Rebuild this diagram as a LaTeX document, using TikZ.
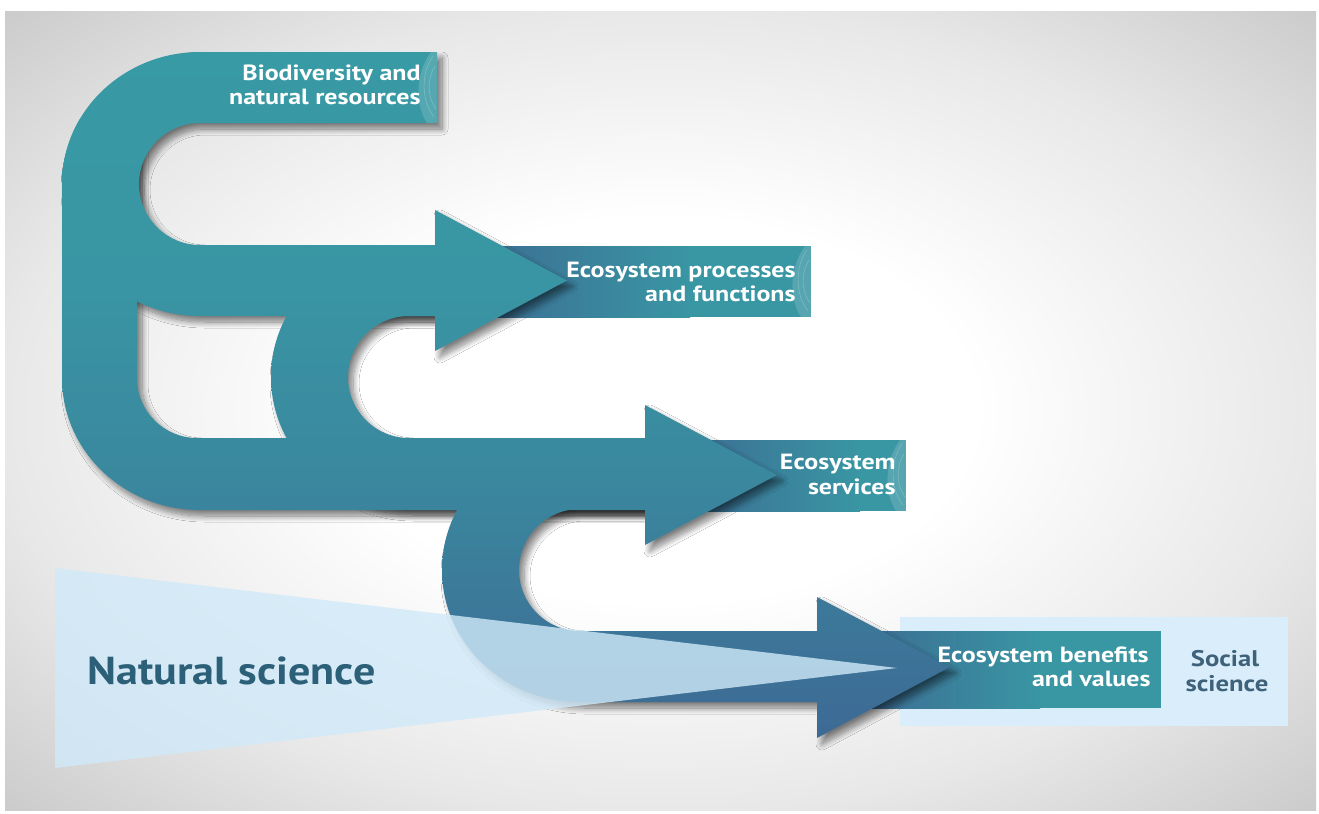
\documentclass[tikz,border=0pt]{standalone}
\usepackage{fontspec}
\newfontfamily\labfont{PT Sans}[FakeStretch=1.18]
\newfontfamily\bigfont{PT Sans}[FakeStretch=1.13]
\usetikzlibrary{shadows.blur}

\definecolor{fA}{RGB}{56,154,164}
\definecolor{fB}{RGB}{57,149,163}
\definecolor{fC}{RGB}{58,136,158}
\definecolor{fD}{RGB}{61,113,151}
\definecolor{fE}{RGB}{61,106,149}
\definecolor{boxteal}{RGB}{57,150,163}
\definecolor{boxdark}{RGB}{60,110,148}
\definecolor{wedgecol}{RGB}{208,234,249}
\definecolor{lightbox}{RGB}{217,238,250}
\definecolor{naturalcol}{RGB}{44,95,120}
\definecolor{socialcol}{RGB}{62,98,122}

\pgfdeclareradialshading{bgshade}{\pgfpoint{0bp}{0bp}}{color(0bp)=(white); color(12bp)=(white); color(25bp)=(white!91!black); color(36bp)=(white!79!black); color(50bp)=(white!79!black)}
\pgfdeclareverticalshading{flowshade}{100bp}{color(0bp)=(fE); color(25.5bp)=(fE); color(30.3bp)=(fD); color(44.1bp)=(fC); color(58bp)=(fB); color(74.1bp)=(fA); color(100bp)=(fA)}

\tikzset{
  softshadow/.style={blur shadow={shadow xshift=2.5pt, shadow yshift=-3pt, shadow blur radius=3pt, shadow blur steps=12, shadow opacity=50}},
  flowfill/.style={path picture={\shade[shading=flowshade] (0,40) rectangle (1319,745);}},
  lbl/.style={font=\labfont\bfseries\fontsize{11}{13}\selectfont, text=white, inner sep=0pt, anchor=base east},
  soc/.style={font=\labfont\bfseries\fontsize{11.3}{13}\selectfont, text=socialcol, inner sep=0pt, anchor=base},
  bigtxt/.style={font=\bigfont\bfseries\fontsize{19.5}{22}\selectfont, text=naturalcol, inner sep=0pt, anchor=base west},
  swirlfill/.style={fill=white, fill opacity=0.15},
  swirlline/.style={draw=white, draw opacity=0.22, line width=0.3pt}
}

\def\shapeCzero{(137,118) -- (80.5,118) arc[start angle=210, end angle=180, x radius=138, y radius=132] -- (62,378) arc[start angle=180, end angle=90, x radius=138, y radius=132] -- (660,510) -- (660,438) -- (197,438) arc[start angle=90, end angle=180, radius=60] -- cycle}
\def\shapeCone{(437,52) -- (200,52) arc[start angle=270, end angle=90, x radius=138, y radius=132] -- (435,316) -- (435,351) -- (567,280.5) -- (435,210) -- (435,245) -- (200,245) arc[start angle=90, end angle=270, radius=61] -- (437,123) -- cycle}
\def\shapeCtwo{(435,245) -- (409,245) arc[start angle=270, end angle=90, x radius=138, y radius=132] -- (645,509) -- (645,545) -- (777,475) -- (645,405) -- (645,438) -- (409,438) arc[start angle=90, end angle=270, radius=61] -- (435,316) -- cycle}
\def\shapeCthree{(645,438) -- (580,438) arc[start angle=270, end angle=90, x radius=138, y radius=132] -- (817,702) -- (817,738) -- (950,667) -- (817,597) -- (817,631) -- (580,631) arc[start angle=90, end angle=270, radius=61] -- (645,509) -- cycle}

\newcommand\swirlend[3]{% right x, top y, bottom y
  \fill[swirlfill] (#1,#2) -- (#1,#3) -- (#1-10,#3) .. controls (#1-22,#3-18) and (#1-22,#2+22) .. (#1-6,#2) -- cycle;
  \draw[swirlline] (#1-4,#2+4) .. controls (#1-16,#2+20) and (#1-16,#3-22) .. (#1-3,#3-6);
  \draw[swirlline] (#1-2,#2+14) .. controls (#1-10,#2+26) and (#1-10,#3-26) .. (#1-1,#3-14);
}

\begin{document}
\begin{tikzpicture}[x=0.5pt,y=-0.5pt]
\useasboundingbox (0,0) rectangle (1319,814);
\fill[white] (0,0) rectangle (1319,814);
% background panel
\shade[shading=bgshade] (5,11) rectangle (1316,810);

% social science light box
\fill[lightbox] (900,617) rectangle (1288,726);

% label boxes
\fill[boxteal] (480,246) rectangle (811,317);
\shade[left color=boxdark, right color=boxteal] (480,246) rectangle (690,317);
\fill[boxteal] (690,440) rectangle (906,511);
\shade[left color=boxdark, right color=boxteal] (690,440) rectangle (860,511);
\fill[boxteal] (870,631) rectangle (1161,708);
\shade[left color=boxdark, right color=boxteal] (870,631) rectangle (1040,708);

% shadows of the flow shapes
\path[softshadow] \shapeCzero;
\path[softshadow] \shapeCone;
\path[softshadow] \shapeCtwo;
\path[softshadow] \shapeCthree;

% flow shapes, one continuous gradient
\path[flowfill] \shapeCzero;
\path[flowfill] \shapeCone;
\path[flowfill] \shapeCtwo;
\path[flowfill] \shapeCthree;

% decorated band ends
\swirlend{437}{52}{123}
\swirlend{811}{246}{317}
\swirlend{906}{440}{511}

% natural science wedge
\fill[wedgecol, fill opacity=0.8] (55,568) -- (897,668) -- (55,768) -- cycle;

% texts
\node[lbl] (bio1) at (421,80) {Biodiversity and};
\node[lbl] (bio2) at (421,104) {natural resources};
\node[lbl] (proc1) at (796,277) {Ecosystem processes};
\node[lbl] (proc2) at (796,301) {and functions};
\node[lbl] (serv1) at (896,469) {Ecosystem};
\node[lbl] (serv2) at (896,494) {services};
\node[lbl] (ben1) at (1149,662) {Ecosystem benefits};
\node[lbl] (ben2) at (1151,686) {and values};
\node[soc] (soc1) at (1225,666) {Social};
\node[soc] (soc2) at (1227,691) {science};
\node[bigtxt] (nat) at (87,684) {Natural science};
\end{tikzpicture}
\end{document}
